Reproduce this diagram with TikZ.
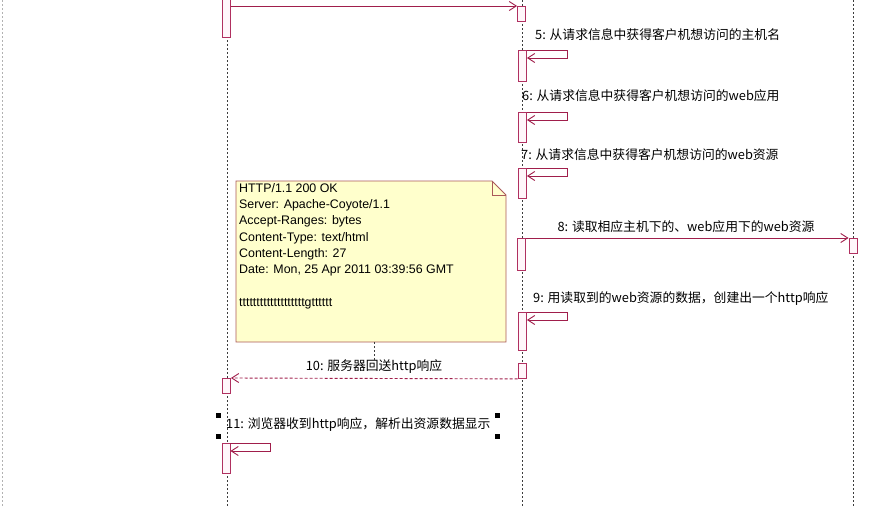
\documentclass[tikz,border=0pt]{standalone}
\usepackage{fontspec}
\setmainfont{Liberation Sans}
\newfontfamily\cjk{Noto Sans CJK SC}
\usetikzlibrary{arrows.meta,positioning}

\definecolor{msgred}{RGB}{160,30,75}
\definecolor{actred}{RGB}{176,48,96}
\definecolor{actfill}{RGB}{255,246,250}
\definecolor{noteline}{RGB}{170,90,90}
\definecolor{notefill}{RGB}{255,255,204}
\definecolor{lifegray}{RGB}{60,60,60}

\tikzset{
  life/.style={draw=lifegray,line width=0.8pt,dash pattern=on 2pt off 2pt},
  act/.style={draw=actred,fill=actfill,line width=0.9pt,minimum width=8pt,inner sep=0pt,anchor=north},
  msg/.style={draw=msgred,line width=0.9pt,-{Straight Barb[length=7pt,width=9pt]}},
  reply/.style={msg,dash pattern=on 3pt off 2pt},
  msglabel/.style={font=\cjk\fontsize{12.8}{15}\selectfont,inner sep=0pt},
  handle/.style={fill=black,minimum size=5pt,inner sep=0pt},
}

\begin{document}
\begin{tikzpicture}[x=1pt,y=-1pt]
  \useasboundingbox[fill=white] (0,0) rectangle (889,506);

  % lifelines
  \draw[life,draw=gray!60] (2,0) -- (2,506);
  \draw[life] (227,0) -- (227,506);
  \draw[life] (522,0) -- (522,506);
  \draw[life] (853,0) -- (853,506);

  % 4: browser -> server
  \node[act,minimum height=57pt] (b4) at (226.5,-20) {};
  \node[act,minimum height=15pt] (s4) at (521.5,6) {};
  \draw[msg] (b4.east |- s4.north) -- (s4.north west);

  % 5, 6, 7: self calls on the server
  \node[act,minimum height=31pt] (s5) at (522.5,50) {};
  \node[msglabel,anchor=west] (l5) at (535,35) {5: 从请求信息中获得客户机想访问的主机名};
  \draw[msg] (s5.north east) -- ++(40,0) |- ([yshift=-8pt]s5.north east);

  \node[act,minimum height=30pt] (s6) at (522.5,112) {};
  \node[msglabel,anchor=west] (l6) at (522,96) {6: 从请求信息中获得客户机想访问的web应用};
  \draw[msg] (s6.north east) -- ++(40,0) |- ([yshift=-8pt]s6.north east);

  \node[act,minimum height=30pt] (s7) at (522.5,168) {};
  \node[msglabel,anchor=west] (l7) at (521,155) {7: 从请求信息中获得客户机想访问的web资源};
  \draw[msg] (s7.north east) -- ++(40,0) |- ([yshift=-8pt]s7.north east);

  % 8: server -> resources
  \node[act,minimum height=32pt] (s8) at (521.5,238) {};
  \node[act,minimum height=15pt] (r8) at (853,238) {};
  \node[msglabel] (l8) at (686,227) {8: 读取相应主机下的、web应用下的web资源};
  \draw[msg] (s8.north east) -- (r8.north west);

  % 9: self call
  \node[act,minimum height=38pt] (s9) at (522.5,312) {};
  \node[msglabel,anchor=west] (l9) at (533,299) {9: 用读取到的web资源的数据，创建出一个http响应};
  \draw[msg] (s9.north east) -- ++(40,0) |- ([yshift=-8pt]s9.north east);

  % note
  \coordinate (noteNW) at (236,181);
  \coordinate (noteSE) at (506,342);
  \filldraw[draw=noteline,fill=notefill,line width=0.9pt]
    (noteNW) -- (492,181) -- (506,195) -- (noteSE) -- (236,342) -- cycle;
  \draw[draw=noteline,line width=0.9pt] (492,181) -- (492,195) -- (506,195);
  \node[anchor=north west,align=left,inner sep=0pt,font=\fontsize{12.4}{16.3}\selectfont]
    (note) at (239,183) {HTTP/1.1 200 OK\\Server: Apache-Coyote/1.1\\Accept-Ranges: bytes\\
    Content-Type: text/html\\Content-Length: 27\\Date: Mon, 25 Apr 2011 03:39:56 GMT\\[16.3pt]
    tttttttttttttttttttgtttttt};
  \coordinate (noteS) at (374,342);

  % 10: server -> browser
  \node[act,minimum height=15pt] (s10) at (522,363) {};
  \node[act,minimum height=15pt] (b10) at (226.5,378) {};
  \node[msglabel] (l10) at (374,367) {10: 服务器回送http响应};
  \draw[reply] (s10.south west) -- (b10.north east);
  \draw[life,line width=0.6pt] (noteS) -- (l10.north -| noteS);

  % 11: self call on the browser
  \node[msglabel,anchor=west] (l11) at (226,425) {11: 浏览器收到http响应，解析出资源数据显示};
  \foreach \hx/\hy in {218/415,497/415,218/436,497/436}
    \node[handle] at (\hx,\hy) {};
  \node[act,minimum height=30pt] (b11) at (226,443) {};
  \draw[msg] (b11.north east) -- ++(40,0) |- ([yshift=-8pt]b11.north east);
\end{tikzpicture}
\end{document}
